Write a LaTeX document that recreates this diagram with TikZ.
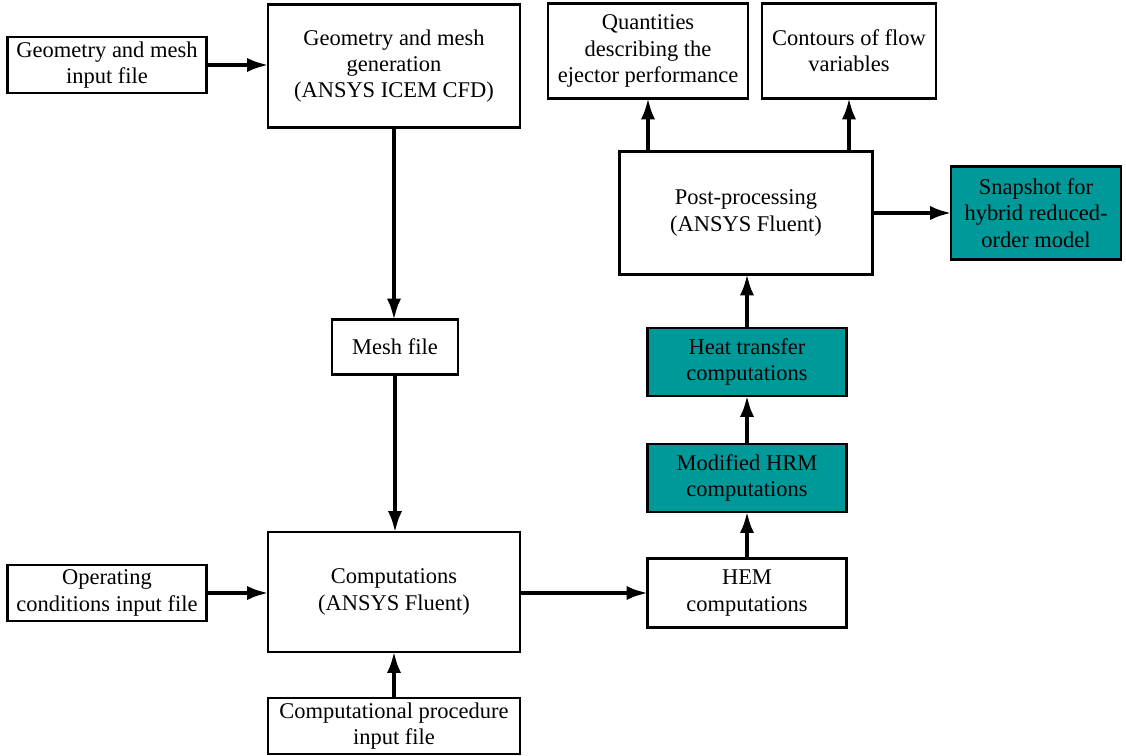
\documentclass[tikz,border=0pt]{standalone}
\usepackage{fontspec}
\setmainfont{Liberation Serif}
\usepackage{xcolor}
\usetikzlibrary{positioning,arrows.meta}
\definecolor{tealbox}{HTML}{009999}
\tikzset{
  every overlay node/.style={}
}

\begin{document}
\begin{tikzpicture}[x=0.02cm,y=-0.02cm,
	box/.style = {rectangle, draw, line width=1.6pt, align=center, inner sep=0pt, font=\fontsize{12.8}{15}\selectfont},
	hbox/.style = {box, fill=tealbox},
	flow/.style = {line width=2.6pt, shorten >=-1.5pt, -{Latex[length=4.4mm,width=2.8mm]}}]
	\useasboundingbox (0,0) rectangle (1126,756);
	\node[box, minimum width=199*0.02cm, minimum height=56*0.02cm] (geoin) at (107, 65) {Geometry and mesh\\input file};
	\node[box, minimum width=252*0.02cm, minimum height=123*0.02cm] (geomesh) at (394, 66) {Geometry and mesh\\generation\\(ANSYS ICEM CFD)};
	\node[box, minimum width=126*0.02cm, minimum height=55*0.02cm] (meshfile) at (395, 347) {Mesh file};
	\node[box, minimum width=252*0.02cm, minimum height=120*0.02cm] (comp) at (394, 592) {Computations\\(ANSYS Fluent)};
	\node[box, minimum width=199*0.02cm, minimum height=56*0.02cm] (opin) at (107, 593) {Operating\\conditions input file};
	\node[box, minimum width=252*0.02cm, minimum height=56*0.02cm] (procin) at (394, 726) {Computational procedure\\input file};
	\node[box, minimum width=199*0.02cm, minimum height=69*0.02cm] (hem) at (747, 593) {HEM\\computations};
	\node[hbox, minimum width=199*0.02cm, minimum height=68*0.02cm] (hrm) at (747, 478) {Modified HRM\\computations};
	\node[hbox, minimum width=199*0.02cm, minimum height=68*0.02cm] (heat) at (747, 362) {Heat transfer\\computations};
	\node[box, minimum width=253*0.02cm, minimum height=123*0.02cm] (post) at (746, 213) {Post-processing\\(ANSYS Fluent)};
	\node[hbox, minimum width=170*0.02cm, minimum height=93*0.02cm] (snap) at (1036, 213) {Snapshot for\\hybrid reduced-\\order model};
	\node[box, minimum width=200*0.02cm, minimum height=95*0.02cm] (quant) at (648, 51) {Quantities\\describing the\\ejector performance};
	\node[box, minimum width=174*0.02cm, minimum height=95*0.02cm] (cont) at (849, 51) {Contours of flow\\variables};

	\draw[flow] (geoin.east) to (geomesh.west |- geoin.east);
	\draw[flow] (geomesh.south) to (meshfile.north -| geomesh.south);
	\draw[flow] (meshfile.south) to (comp.north -| meshfile.south);
	\draw[flow] (opin.east) to (comp.west |- opin.east);
	\draw[flow] (procin.north) to (comp.south -| procin.north);
	\draw[flow] (comp.east |- hem.west) to (hem.west);
	\draw[flow] (hem.north) to (hrm.south);
	\draw[flow] (hrm.north) to (heat.south);
	\draw[flow] (heat.north) to (post.south -| heat.north);
	\draw[flow] (post.north -| quant.south) to (quant.south);
	\draw[flow] (post.north -| cont.south) to (cont.south);
	\draw[flow] (post.east) to (snap.west);
\end{tikzpicture}
\end{document}
